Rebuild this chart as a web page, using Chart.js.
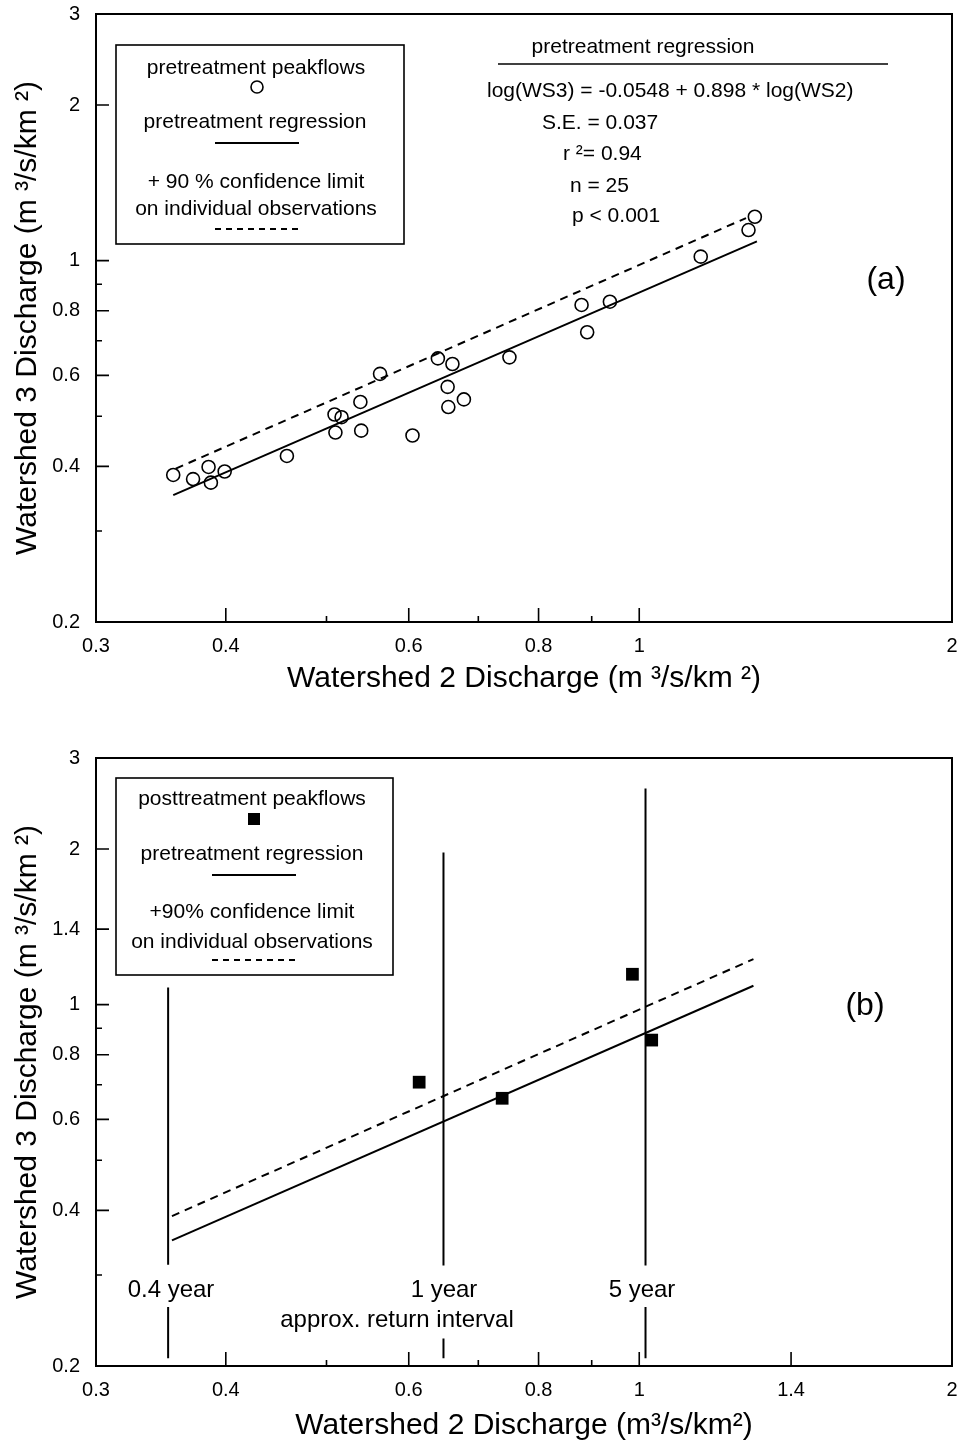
<!DOCTYPE html>
<html>
<head>
<meta charset="utf-8">
<script src="https://cdn.jsdelivr.net/npm/chart.js@4.4.1/dist/chart.umd.min.js"></script>
<style>
    html, body { margin: 0; padding: 0; background: #fff; }
    .panel { position: absolute; left: 0; width: 961px; }
    #panelA { top: 0; height: 720px; }
    #panelB { top: 720px; height: 725px; }
</style>
</head>
<body>
<div class="panel" id="panelA"><canvas id="chartA"></canvas></div>
<div class="panel" id="panelB"><canvas id="chartB"></canvas></div>
<script>
// (a) pretreatment peakflows, WS2 vs WS3 (m3/s/km2)
const preWS2 = [0.356, 0.372, 0.385, 0.387, 0.399, 0.458, 0.509, 0.517, 0.510, 0.539, 0.540, 0.563, 0.605,
                0.640, 0.661, 0.654, 0.655, 0.678, 0.750, 0.880, 0.937, 0.891, 1.146, 1.274, 1.292];
const preWS3 = [0.385, 0.378, 0.399, 0.372, 0.391, 0.419, 0.504, 0.498, 0.465, 0.533, 0.469, 0.604, 0.459,
                0.647, 0.631, 0.570, 0.521, 0.539, 0.650, 0.821, 0.833, 0.727, 1.018, 1.146, 1.216];
// regression line and +90% limit (end points)
const regAx = [0.356, 1.298];
const regAy = [0.352, 1.090];
const limAx = [0.358, 1.267];
const limAy = [0.396, 1.209];

// (b) posttreatment peakflows
const postWS2 = [0.614, 0.738, 0.985, 1.028];
const postWS3 = [0.708, 0.659, 1.145, 0.854];
const regBx = [0.355, 1.288];
const regBy = [0.350, 1.088];
const limBx = [0.355, 1.288];
const limBy = [0.390, 1.225];

// approx. return interval markers (x, top, gap start, gap end, bottom)
const returnLabels = ['0.4 year', '1 year', '5 year'];
const returnX = [0.352, 0.648, 1.014];
const returnTop = [1.08, 1.97, 2.62];
const returnGapTop = [0.314, 0.313, 0.313];
const returnGapBottom = [0.260, 0.226, 0.260];
const returnBottom = [0.207, 0.207, 0.207];

// axis labels and tick marks
const xLabelsA = [0.3, 0.4, 0.6, 0.8, 1, 2];
const xMajorA = [0.4, 0.6, 0.8, 1];
const yLabelsA = [0.2, 0.4, 0.6, 0.8, 1, 2, 3];
const yMajorA = [0.4, 0.6, 0.8, 1, 2];
const xLabelsB = [0.3, 0.4, 0.6, 0.8, 1, 1.4, 2];
const xMajorB = [0.4, 0.6, 0.8, 1, 1.4];
const yLabelsB = [0.2, 0.4, 0.6, 0.8, 1, 1.4, 2, 3];
const yMajorB = [0.4, 0.6, 0.8, 1, 1.4, 2];
const xMinor = [0.5, 0.7, 0.9];
const yMinor = [0.3, 0.5, 0.7, 0.9];

const FONT = '"Liberation Sans", Arial, Helvetica, sans-serif';

function pts(xs, ys) {
    return xs.map((x, i) => ({ x: x, y: ys[i] }));
}

function txt(ctx, s, x, y, size, align) {
    ctx.font = size + 'px ' + FONT;
    ctx.textAlign = align || 'center';
    ctx.textBaseline = 'alphabetic';
    ctx.fillText(s, x, y);
}

function hline(ctx, x1, x2, y, w, dash) {
    ctx.save();
    ctx.lineWidth = w;
    ctx.setLineDash(dash || []);
    ctx.beginPath();
    ctx.moveTo(x1, y);
    ctx.lineTo(x2, y);
    ctx.stroke();
    ctx.restore();
}

// box round the plot + inward tick marks
function frameTicks(xMajor, yMajor) {
    return {
        id: 'frameTicks',
        afterDraw(chart) {
            const { ctx, chartArea: a, scales: { x, y } } = chart;
            ctx.save();
            ctx.strokeStyle = '#000';
            ctx.lineWidth = 2;
            ctx.strokeRect(a.left, a.top, a.right - a.left, a.bottom - a.top);
            ctx.lineWidth = 1.6;
            ctx.beginPath();
            xMajor.concat(xMinor).forEach(v => {
                const px = x.getPixelForValue(v);
                const len = xMajor.includes(v) ? 14 : 6;
                ctx.moveTo(px, a.bottom);
                ctx.lineTo(px, a.bottom - len);
            });
            yMajor.concat(yMinor).forEach(v => {
                const py = y.getPixelForValue(v);
                const len = yMajor.includes(v) ? 13 : 6;
                ctx.moveTo(a.left, py);
                ctx.lineTo(a.left + len, py);
            });
            ctx.stroke();
            ctx.restore();
        }
    };
}

function logAxis(min, max, labels, pad) {
    return {
        type: 'logarithmic',
        min: min,
        max: max,
        grid: { display: false, drawTicks: false },
        border: { display: false },
        afterBuildTicks: s => { s.ticks = labels.map(v => ({ value: v })); },
        ticks: {
            autoSkip: false,
            maxRotation: 0,
            padding: pad,
            color: '#000',
            font: { family: FONT, size: 20 },
            callback: v => String(v)
        }
    };
}

function makeOptions(xLabels, yLabels, topPad, xAxisH, xTitle, xTitlePad) {
    const xs = logAxis(0.3, 2, xLabels, 12);
    // fixed axis band, and no extra room for the end labels
    xs.afterFit = s => { s.height = xAxisH; s.paddingLeft = 0; s.paddingRight = 0; };
    xs.title = { display: true, text: xTitle, color: '#000', font: { family: FONT, size: 30 }, padding: { top: 0, bottom: xTitlePad } };
    const ys = logAxis(0.2, 3, yLabels, 16);
    ys.afterFit = s => { s.width = 96; s.paddingTop = 0; s.paddingBottom = 0; };
    ys.title = { display: true, text: 'Watershed 3 Discharge (m ³/s/km ²)', color: '#000', font: { family: FONT, size: 30 }, padding: { top: 10, bottom: 0 } };
    return {
        responsive: true,
        maintainAspectRatio: false,
        animation: false,
        layout: { padding: { top: topPad, right: 9, left: 0, bottom: 0 } },
        plugins: { legend: { display: false }, tooltip: { enabled: false } },
        scales: { x: xs, y: ys }
    };
}

const lineStyle = { showLine: true, borderColor: '#000', borderWidth: 2, pointRadius: 0, fill: false };

// Panel (a)
const notesA = {
    id: 'notesA',
    afterDraw(chart) {
        const ctx = chart.ctx;
        ctx.save();
        ctx.fillStyle = '#000';
        ctx.strokeStyle = '#000';
        ctx.lineWidth = 1.6;
        ctx.strokeRect(116, 45, 288, 199);
        txt(ctx, 'pretreatment peakflows', 256, 74, 21);
        ctx.beginPath();
        ctx.arc(257, 87, 6, 0, Math.PI * 2);
        ctx.stroke();
        txt(ctx, 'pretreatment regression', 255, 128, 21);
        hline(ctx, 215, 299, 143, 2);
        txt(ctx, '+ 90 % confidence limit', 256, 188, 21);
        txt(ctx, 'on individual observations', 256, 215, 21);
        hline(ctx, 215, 300, 229, 1.8, [6, 5]);

        txt(ctx, 'pretreatment regression', 643, 53, 21);
        hline(ctx, 498, 888, 64, 1.4);
        txt(ctx, 'log(WS3) = -0.0548 + 0.898 * log(WS2)', 487, 97, 21, 'left');
        txt(ctx, 'S.E. = 0.037', 542, 129, 21, 'left');
        txt(ctx, 'r ²= 0.94', 563, 160, 21, 'left');
        txt(ctx, 'n = 25', 570, 192, 21, 'left');
        txt(ctx, 'p < 0.001', 572, 222, 21, 'left');
        txt(ctx, '(a)', 886, 289, 32);
        ctx.restore();
    }
};

new Chart(document.getElementById('chartA'), {
    type: 'scatter',
    data: {
        datasets: [
            {
                label: 'pretreatment peakflows',
                data: pts(preWS2, preWS3),
                pointStyle: 'circle',
                pointRadius: 6.5,
                pointBorderWidth: 1.6,
                pointBorderColor: '#000',
                pointBackgroundColor: 'rgba(0,0,0,0)'
            },
            Object.assign({ label: 'pretreatment regression', data: pts(regAx, regAy) }, lineStyle),
            Object.assign({ label: '+90% confidence limit', data: pts(limAx, limAy), borderDash: [8, 6] }, lineStyle)
        ]
    },
    options: makeOptions(xLabelsA, yLabelsA, 14, 98, 'Watershed 2 Discharge (m ³/s/km ²)', 23),
    plugins: [frameTicks(xMajorA, yMajorA), notesA]
});

// Panel (b)
const notesB = {
    id: 'notesB',
    afterDraw(chart) {
        const ctx = chart.ctx;
        ctx.save();
        ctx.fillStyle = '#000';
        ctx.strokeStyle = '#000';
        ctx.lineWidth = 1.6;
        ctx.strokeRect(116, 58, 277, 197);
        txt(ctx, 'posttreatment peakflows', 252, 85, 21);
        ctx.fillRect(248, 93, 12, 12);
        txt(ctx, 'pretreatment regression', 252, 140, 21);
        hline(ctx, 212, 296, 155, 2);
        txt(ctx, '+90% confidence limit', 252, 198, 21);
        txt(ctx, 'on individual observations', 252, 228, 21);
        hline(ctx, 212, 296, 240, 1.8, [6, 5]);

        // return interval labels sit on the marker lines
        const labelX = [171, 444, 642];
        returnLabels.forEach((s, i) => txt(ctx, s, labelX[i], 577, 24));
        txt(ctx, 'approx. return interval', 397, 607, 24);
        txt(ctx, '(b)', 865, 295, 32);
        ctx.restore();
    }
};

const returnSets = returnX.map((x, i) => Object.assign({
    label: returnLabels[i],
    data: [
        { x: x, y: returnTop[i] }, { x: x, y: returnGapTop[i] },
        { x: x, y: null },
        { x: x, y: returnGapBottom[i] }, { x: x, y: returnBottom[i] }
    ],
    spanGaps: false
}, lineStyle));

new Chart(document.getElementById('chartB'), {
    type: 'scatter',
    data: {
        datasets: [
            {
                label: 'posttreatment peakflows',
                data: pts(postWS2, postWS3),
                pointStyle: 'rect',
                pointRadius: 9,
                pointBorderWidth: 0,
                pointBackgroundColor: '#000'
            },
            Object.assign({ label: 'pretreatment regression', data: pts(regBx, regBy) }, lineStyle),
            Object.assign({ label: '+90% confidence limit', data: pts(limBx, limBy), borderDash: [8, 6] }, lineStyle)
        ].concat(returnSets)
    },
    options: makeOptions(xLabelsB, yLabelsB, 38, 79, 'Watershed 2 Discharge (m³/s/km²)', 1),
    plugins: [frameTicks(xMajorB, yMajorB), notesB]
});
</script>
</body>
</html>
